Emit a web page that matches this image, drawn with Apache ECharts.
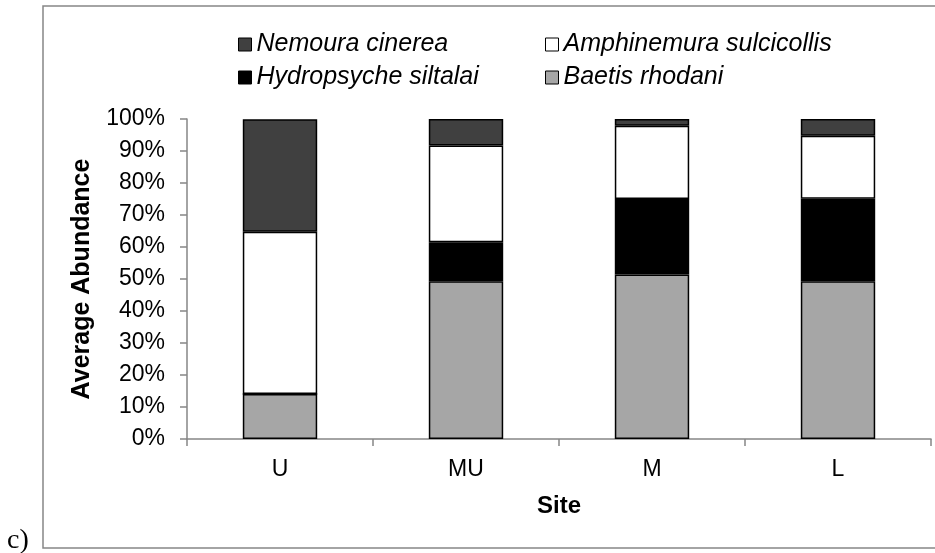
<!DOCTYPE html>
<html>
<head>
<meta charset="utf-8">
<script src="https://cdn.jsdelivr.net/npm/echarts@6/dist/echarts.min.js"></script>
<style>
html,body{margin:0;padding:0;background:#fff;}
#chart{width:935px;height:553px;}
</style>
</head>
<body>
<div id="chart"></div>
<script>
const sites = ['U', 'MU', 'M', 'L'];
const baetis = [14.1, 49.3, 51.4, 49.3];
const hydropsyche = [0, 12.2, 23.6, 25.8];
const amphinemura = [50.7, 30.2, 22.9, 19.7];
const nemoura = [35.1, 8.3, 2.1, 5.2];
const seriesNames = ['Baetis rhodani', 'Hydropsyche siltalai', 'Amphinemura sulcicollis', 'Nemoura cinerea'];
const seriesColors = ['#a6a6a6', '#000000', '#ffffff', '#404040'];
const seriesData = [baetis, hydropsyche, amphinemura, nemoura];

const chart = echarts.init(document.getElementById('chart'), null, {renderer: 'canvas'});
const font = 'Liberation Sans, Arial, sans-serif';

const legendBase = {
  orient: 'vertical',
  icon: 'rect',
  itemWidth: 13,
  itemHeight: 13,
  itemGap: 8,
  padding: 0,
  top: 32,
  textStyle: {fontFamily: font, fontSize: 25, fontStyle: 'italic', color: '#000'},
  itemStyle: {borderColor: '#000', borderWidth: 1}
};

chart.setOption({
  animation: false,
  backgroundColor: '#fff',
  grid: {left: 187, right: 4, top: 119, bottom: 114, containLabel: false, outerBoundsMode: 'none'},
  legend: [
    Object.assign({}, legendBase, {left: 238, data: ['Nemoura cinerea', 'Hydropsyche siltalai']}),
    Object.assign({}, legendBase, {left: 545, data: ['Amphinemura sulcicollis', 'Baetis rhodani']})
  ],
  xAxis: {
    type: 'category',
    data: sites,
    name: 'Site',
    nameLocation: 'middle',
    nameGap: 55,
    nameTextStyle: {fontFamily: font, fontSize: 24, fontWeight: 'bold', color: '#000'},
    axisLine: {lineStyle: {color: '#868686', width: 1.5}},
    axisTick: {show: true, length: 7, lineStyle: {color: '#868686', width: 1.5}},
    axisLabel: {fontFamily: font, fontSize: 23, color: '#000', margin: 19}
  },
  yAxis: {
    type: 'value',
    min: 0,
    max: 100,
    interval: 10,
    name: 'Average Abundance',
    nameLocation: 'middle',
    nameGap: 92,
    nameTextStyle: {fontFamily: font, fontSize: 25, fontWeight: 'bold', color: '#000'},
    splitLine: {show: false},
    axisLine: {show: true, lineStyle: {color: '#868686', width: 1.5}},
    axisTick: {show: true, length: 7, lineStyle: {color: '#868686', width: 1.5}},
    axisLabel: {fontFamily: font, fontSize: 23, color: '#000', margin: 22, formatter: '{value}%'}
  },
  series: seriesNames.map((n, i) => ({
    name: n,
    type: 'bar',
    stack: 'total',
    barCategoryGap: '60%',
    data: seriesData[i],
    itemStyle: {color: seriesColors[i], borderColor: '#000', borderWidth: 1.5}
  })),
  graphic: [
    {type: 'rect', shape: {x: 43, y: 6, width: 920, height: 542}, style: {fill: 'none', stroke: '#868686', lineWidth: 1.5}, silent: true, z: -1},
    {type: 'text', x: 7, y: 541, style: {text: 'c)', font: '28px "Liberation Serif", "Times New Roman", serif', fill: '#000', verticalAlign: 'middle'}}
  ]
});
</script>
</body>
</html>
